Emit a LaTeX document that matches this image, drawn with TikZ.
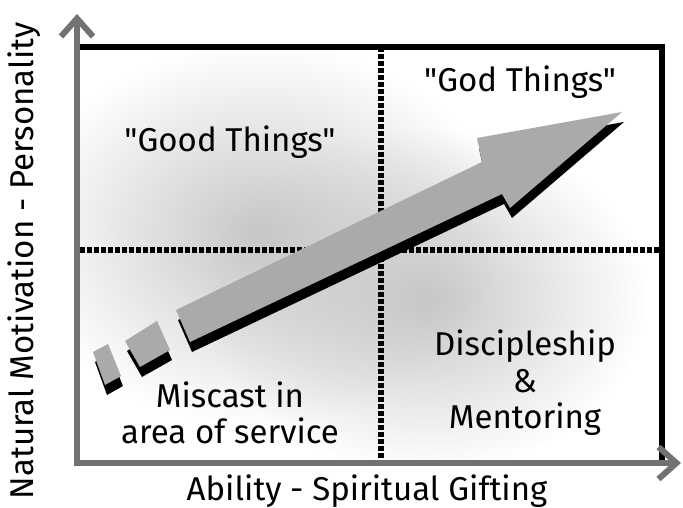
\documentclass[tikz,border=0pt]{standalone}
\usepackage{fontspec}
\setmainfont[Ligatures=TeXOff]{Fira Sans}
\usetikzlibrary{arrows.meta,fadings}
\definecolor{axisgray}{HTML}{727272}
\definecolor{arrowgray}{HTML}{AAAAAA}
\tikzfading[name=glowfade, inner color=transparent!0, outer color=transparent!100]
\tikzset{
  axisline/.style={draw=axisgray, line width=6pt, -{Straight Barb[length=18pt,width=32pt]}},
  frameline/.style={draw=black, line width=5.5pt},
  dotline/.style={draw=black, line width=6pt, dash pattern=on 5pt off 2pt},
  lbl/.style={font=\fontsize{33}{38}\selectfont, text=black, anchor=base, inner sep=0pt},
  shadowfill/.style={fill=black},
  bodyfill/.style={fill=arrowgray},
  glow/.style={fill=black!22, path fading=glowfade},
}
\begin{document}
\begin{tikzpicture}[x=1pt,y=-1pt]
\useasboundingbox (0,0) rectangle (683,508);
% corners
\coordinate (tl) at (80,47);
\coordinate (tr) at (662,47);
\coordinate (br) at (662,462);
\coordinate (ytip) at (77,14);
\coordinate (xtip) at (681,463);
\coordinate (ostart) at (77,466);
\coordinate (xstart) at (74,463);
\coordinate (vtop) at (381,47);
\coordinate (vbot) at (381,461);
\coordinate (hl) at (80,250);
\coordinate (hr) at (660,250);
% background shading
\begin{scope}
\clip (80,47) rectangle (662,463);
\fill[white] (80,47) rectangle (662,463);
\fill[glow] (260,235) ellipse (240 and 190);
\fill[glow] (425,300) ellipse (220 and 170);
\end{scope}
% dotted quadrant lines
\draw[dotline] (vtop) -- (vbot);
\draw[dotline] (hl) -- (hr);
% frame
\draw[frameline] (tl) -- (tr) -- (br);
% axes
\draw[axisline] (ostart) -- (ytip);
\draw[axisline] (xstart) -- (xtip);
% big arrow
\begin{scope}[shift={(2,10)}]
\fill[shadowfill] (176,310) -- (482,162) -- (477,138) -- (622,112) -- (510,208) -- (502,194) -- (190,342) -- cycle;
\fill[shadowfill] (125,341) -- (157,321) -- (170,350) -- (140,367) -- cycle;
\fill[shadowfill] (93,352) -- (108,344) -- (121,376) -- (105,385) -- cycle;
\end{scope}
\fill[bodyfill] (176,310) -- (482,162) -- (477,138) -- (622,112) -- (510,208) -- (502,194) -- (190,342) -- cycle;
\fill[bodyfill] (125,341) -- (157,321) -- (170,350) -- (140,367) -- cycle;
\fill[bodyfill] (93,352) -- (108,344) -- (121,376) -- (105,385) -- cycle;
% labels
\node[lbl] (good) at (230,152) {"Good Things"};
\node[lbl] (god) at (520,92) {"God Things"};
\node[lbl] (disc) at (525,355) {Discipleship};
\node[lbl] (amp) at (525,392) {\&};
\node[lbl] (ment) at (525,428) {Mentoring};
\node[lbl] (mis) at (230,407) {Miscast in};
\node[lbl] (area) at (230,443) {area of service};
\node[lbl] (xlab) at (367,500) {Ability - Spiritual Gifting};
\node[lbl, rotate=90] (ylab) at (34,261) {Natural Motivation - Personality};
\end{tikzpicture}
\end{document}
